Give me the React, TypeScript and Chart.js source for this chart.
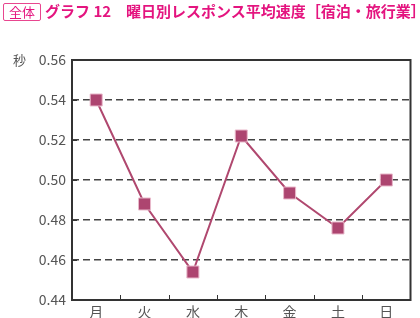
import React, { useEffect, useRef } from "react";
import { Chart, registerables } from "chart.js";

Chart.register(...registerables);

const categories = ["月", "火", "水", "木", "金", "土", "日"];
const speeds = [0.54, 0.488, 0.454, 0.522, 0.4935, 0.476, 0.5];
const yMin = 0.44;
const yMax = 0.56;
const yStep = 0.02;
const titleTag = "全体";
const titleText = "グラフ 12　曜日別レスポンス平均速度［宿泊・旅行業］";
const unitLabel = "秒";

const FONT = "'Noto Sans CJK JP', 'Noto Sans', sans-serif";

const framePlugin = {
  id: "frame",
  afterDraw(chart: any) {
    const { ctx, chartArea } = chart;
    const { left, right, top, bottom } = chartArea;
    ctx.save();
    ctx.strokeStyle = "#333";
    ctx.lineWidth = 1;
    // inner ticks on y
    const ys = chart.scales.y;
    ys.ticks.forEach((t: any) => {
      const py = Math.round(ys.getPixelForValue(t.value)) + 0.5;
      ctx.beginPath();
      ctx.moveTo(left, py);
      ctx.lineTo(left + 5, py);
      ctx.stroke();
    });
    // inner ticks on x at category boundaries
    const xs = chart.scales.x;
    for (let i = 1; i < categories.length; i++) {
      const px = Math.round((xs.getPixelForValue(i - 1) + xs.getPixelForValue(i)) / 2) + 0.5;
      ctx.beginPath();
      ctx.moveTo(px, bottom);
      ctx.lineTo(px, bottom - 5);
      ctx.stroke();
    }
    ctx.lineWidth = 2;
    ctx.strokeRect(left, top, right - left, bottom - top);
    // unit label
    ctx.fillStyle = "#555";
    ctx.font = `13px ${FONT}`;
    ctx.textAlign = "left";
    ctx.textBaseline = "middle";
    ctx.fillText(unitLabel, 13, top);
    ctx.restore();
  },
};

export default function App() {
  const ref = useRef<HTMLCanvasElement | null>(null);
  useEffect(() => {
    if (!ref.current) return;
    const chart = new Chart(ref.current, {
      type: "line",
      data: {
        labels: categories,
        datasets: [
          {
            data: speeds,
            borderColor: "#b0486f",
            borderWidth: 2,
            backgroundColor: "#ad4570",
            pointStyle: "rect",
            pointRadius: 8.5,
            pointBorderColor: "#e9b9cb",
            pointBorderWidth: 1,
            tension: 0,
          },
        ],
      },
      options: {
        responsive: false,
        animation: false,
        layout: { padding: { top: 60, right: 2, left: 0, bottom: 0 } },
        plugins: { legend: { display: false }, tooltip: { enabled: false } },
        scales: {
          x: {
            offset: true,
            grid: { display: false, drawTicks: false },
            border: { display: false },
            ticks: { color: "#555", font: { family: FONT, size: 14 }, padding: 3 },
            afterFit: (s: any) => {
              s.height = 18;
            },
          },
          y: {
            min: yMin,
            max: yMax,
            grid: {
              color: (c: any) =>
                c.tick && (Math.abs(c.tick.value - yMin) < 1e-6 || Math.abs(c.tick.value - yMax) < 1e-6)
                  ? "rgba(0,0,0,0)"
                  : "#444",
              lineWidth: 1.5,
              drawTicks: false,
            },
            border: { display: false, dash: [7, 4] },
            ticks: {
              stepSize: yStep,
              color: "#555",
              font: { family: FONT, size: 14 },
              padding: 6,
              callback: (v: any) => Number(v).toFixed(2),
            },
            afterFit: (s: any) => {
              s.width = 72;
            },
          },
        },
      },
      plugins: [framePlugin],
    });
    return () => chart.destroy();
  }, []);

  return (
    <div style={{ position: "fixed", left: 0, top: 0, width: 420, height: 318, background: "#fff", fontFamily: FONT }}>
      <canvas ref={ref} width={420} height={318} style={{ position: "absolute", left: 0, top: 0 }} />
      <div
        style={{
          position: "absolute",
          left: 3,
          top: 3,
          width: 36,
          height: 16,
          border: "1px solid #e8468f",
          borderRadius: 2,
          color: "#e4147f",
          fontSize: 13,
          lineHeight: "16px",
          textAlign: "center",
        }}
      >
        {titleTag}
      </div>
      <div
        style={{
          position: "absolute",
          left: 45,
          top: 1,
          color: "#e4147f",
          fontSize: 15,
          fontWeight: 700,
          lineHeight: "20px",
          whiteSpace: "nowrap",
        }}
      >
        {titleText}
      </div>
    </div>
  );
}
